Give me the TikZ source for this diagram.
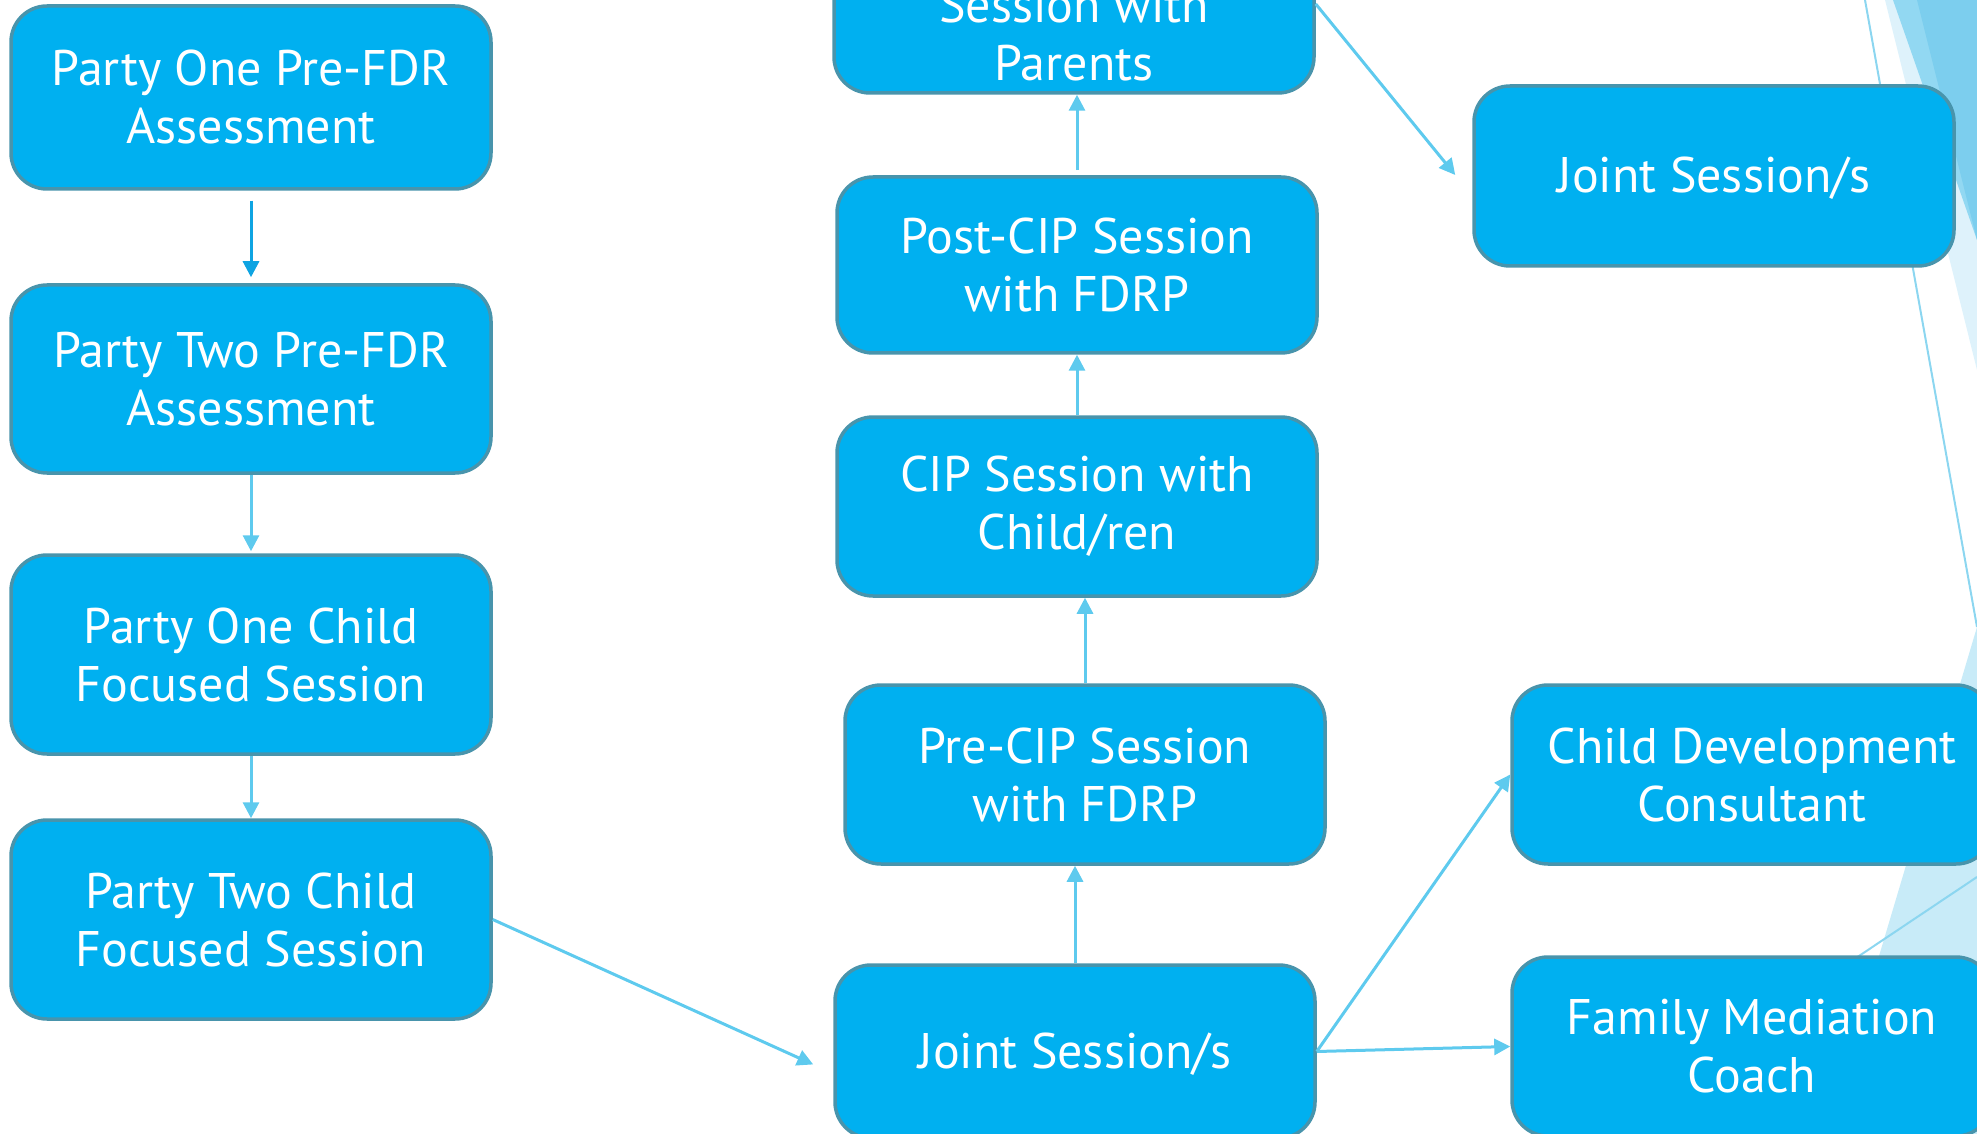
\documentclass[tikz,border=0pt]{standalone}
\usepackage{fontspec}
\setmainfont{PT Sans}
\usetikzlibrary{arrows.meta,calc}
\definecolor{boxfill}{RGB}{0,176,240}
\definecolor{boxline}{RGB}{72,148,172}
\definecolor{linkblue}{RGB}{94,202,238}
\definecolor{linkdark}{RGB}{14,164,226}
\definecolor{facetmid}{RGB}{124,206,238}
\definecolor{facetlight}{RGB}{146,216,242}
\definecolor{facetpale}{RGB}{222,242,251}
\definecolor{facetsoft}{RGB}{200,235,248}
\definecolor{facetline}{RGB}{140,214,240}

\begin{document}
\begin{tikzpicture}[x=0.5pt,y=-0.5pt,
  box/.style={draw=boxline, line width=1.75pt, fill=boxfill, rounded corners=18pt,
    minimum width=240pt, text=white, align=center, inner sep=0pt,
    font=\fontsize{25}{29}\selectfont},
  oneline/.style={text height=22pt, text depth=5pt},
  boxtext/.style={text=white, align=center, inner sep=0pt, font=\fontsize{25}{29}\selectfont},
  link/.style={draw=linkblue, line width=1.5pt, -{Triangle[length=8pt,width=8pt]}},
  linkfirst/.style={link, draw=linkdark},
]
\useasboundingbox (0,0) rectangle (1977,1134);
\clip (0,0) rectangle (1977,1134);

% facet triangles along the right edge
\fill[facetpale] (1885,0) -- (1977,0) -- (1977,370) -- cycle;
\fill[facetlight] (1893,0) -- (1977,0) -- (1977,240) -- cycle;
\fill[facetmid] (1917,0) -- (1977,0) -- (1977,240) -- cycle;
\fill[facetsoft] (1977,627) -- (1826,1134) -- (1977,1134) -- cycle;
\draw[facetline, line width=1pt] (1865,0) -- (1977,627);
\draw[facetline, line width=1pt] (1850,962) -- (1977,877);

% left column
\node[box, minimum height=91.5pt] (p1pre) at (251,97.5) {Party One Pre-FDR\\Assessment};
\node[box, minimum height=94pt] (p2pre) at (251,379) {Party Two Pre-FDR\\Assessment};
\node[box, minimum height=99.5pt] (p1child) at (251,654.5) {Party One Child\\Focused Session};
\node[box, minimum height=99.5pt] (p2child) at (251,919.5) {Party Two Child\\Focused Session};

% middle column
\node[box, minimum height=89pt] (topc) at (1074,4) {};
\node[boxtext] (topctext) at (1074,34) {Session with\\Parents};
\node[box, minimum height=88pt] (postcip) at (1077,265) {Post-CIP Session\\with FDRP};
\node[box, minimum height=89.5pt] (cip) at (1077,506.5) {CIP Session with\\Child/ren};
\node[box, minimum height=89.5pt] (precip) at (1085,774.5) {Pre-CIP Session\\with FDRP};
\node[box, oneline, minimum height=86.5pt] (jointc) at (1075,1051.5) {Joint Session/s};

% right column
\node[box, oneline, minimum height=90pt] (jointr) at (1714,176) {Joint Session/s};
\node[box, minimum height=89.5pt] (childdev) at (1752,774.5) {Child Development\\Consultant};
\node[box, minimum height=89.5pt] (fammed) at (1752,1046.5) {Family Mediation\\Coach};

% connectors
\draw[linkfirst, shorten <=5pt, shorten >=3pt] (p1pre.south) -- (p2pre.north);
\draw[link, shorten >=1pt] (p2pre.south) -- (p1child.north);
\draw[link] (p1child.south) -- (p2child.north);
\draw[link, shorten >=11pt] (p2child.east) -- ($(jointc.west)+(0,22)$);
\draw[link] (jointc.north) -- (jointc.north |- precip.south);
\draw[link] (precip.north) -- (precip.north |- cip.south);
\draw[link] (cip.north) -- (postcip.south);
\draw[link, shorten <=2.5pt] (postcip.north) -- (postcip.north |- topc.south);
\draw[link] (topc.east) -- ($(jointr.west)+(-17,-1)$);
\draw[link] (jointc.east) -- (childdev.west);
\draw[link] (jointc.east) -- (fammed.west);
\end{tikzpicture}
\end{document}
